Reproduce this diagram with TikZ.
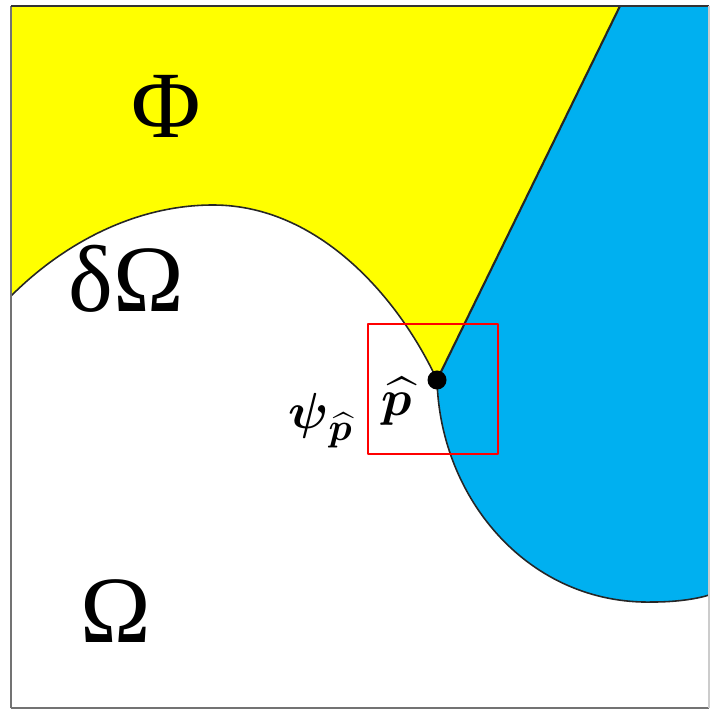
\documentclass[tikz,border=0pt]{standalone}
\usepackage{amsmath, amssymb}
\usepackage{fontspec}
\setmainfont{Liberation Serif}
\usepackage{tikz}
\usetikzlibrary{positioning}
\definecolor{phiyellow}{RGB}{255,255,0}
\definecolor{skyblue}{RGB}{0,176,240}
\tikzset{
    edge line/.style={draw=black!85, line width=0.45pt},
    frame line/.style={draw=black!55, line width=0.8pt},
    big label/.style={inner sep=0pt, font=\fontsize{27}{27}\selectfont},
    math label/.style={inner sep=0pt, font=\fontsize{15}{15}\selectfont}
}

\begin{document}
\begin{tikzpicture}[x=0.01cm, y=-0.01cm, line join=round]
    \useasboundingbox (0,0) rectangle (710,713);
    \fill[white] (0,0) rectangle (710,713);

    \coordinate (top) at (620,6);
    \coordinate (tip) at (437,380);
    \coordinate (left) at (11,296);
    \coordinate (crest) at (213,205);
    \coordinate (low) at (653,602);
    \coordinate (right) at (709,595);

    \fill[phiyellow] (11,6) -- (top) -- (tip)
        .. controls (400,300) and (320,205) .. (crest)
        .. controls (138,205) and (66,241) .. (left) -- cycle;
    \fill[skyblue] (top) -- (709,6) -- (right)
        .. controls (700,598) and (680,602) .. (low)
        .. controls (530,605) and (440,500) .. (tip) -- cycle;

    \draw[edge line] (left) .. controls (66,241) and (138,205) .. (crest)
        .. controls (320,205) and (400,300) .. (tip);
    \draw[edge line] (tip) .. controls (440,500) and (530,605) .. (low)
        .. controls (680,602) and (700,598) .. (right);
    \draw[edge line, line width=0.6pt] (top) -- (tip);

    \draw[frame line] (11,708) -- (11,6);
    \draw[frame line, draw=black!80] (11,6) -- (709,6);
    \draw[frame line] (11,708) -- (709,708);
    \draw[frame line, draw=black!20] (709,6) -- (709,708);

    \node (dot) [circle, fill=black, inner sep=0pt, minimum size=0.19cm] at (tip) {};
    \draw[red, line width=0.7pt] (368,324) rectangle (498,454);

    \node (phi) [big label] at (166,106) {Φ};
    \node (domega) [big label] at (126,279) {δΩ};
    \node (omega) [big label] at (116,611) {Ω};
    \node (phat) [math label] at (397,401) {$\boldsymbol{\widehat{p}}$};
    \node (psi) [math label] at (321,421) {$\boldsymbol{\psi}_{\boldsymbol{\widehat{p}}}$};
\end{tikzpicture}
\end{document}
